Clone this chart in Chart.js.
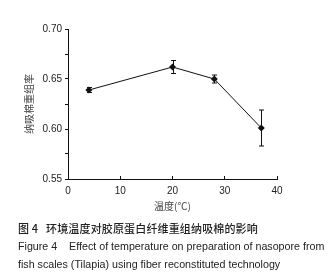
<!DOCTYPE html>
<html>
<head>
<meta charset="utf-8">
<script src="https://cdn.jsdelivr.net/npm/chart.js@4.4.1/dist/chart.umd.min.js"></script>
<style>
  body { margin: 0; background: #fff; }
  #wrap { position: relative; width: 335px; height: 276px; }
  canvas { position: absolute; left: 0; top: 0; }
  .cap { position: absolute; left: 18px; white-space: nowrap; color: #222; }
  #cap1 { top: 220px; font-size: 11px; letter-spacing: 0.15px; font-family: "Noto Sans CJK SC", sans-serif; font-weight: 500; }
  #cap2 { top: 240px; font-size: 10.7px; font-family: "Liberation Sans", Arial, sans-serif; }
  #cap3 { top: 258px; font-size: 10.7px; font-family: "Liberation Sans", Arial, sans-serif; }
</style>
</head>
<body>
<div id="wrap">
  <canvas id="chart" width="335" height="276"></canvas>
  <div class="cap" id="cap1">图 4&nbsp;&nbsp;&nbsp;环境温度对胶原蛋白纤维重组纳吸棉的影响</div>
  <div class="cap" id="cap2">Figure 4&nbsp;&nbsp;&nbsp;&nbsp;Effect of temperature on preparation of nasopore from</div>
  <div class="cap" id="cap3">fish scales (Tilapia) using fiber reconstituted technology</div>
</div>
<script>
// temperature (℃) vs reconstitution rate
const temps = [4, 20, 28, 37];
const rates = [0.639, 0.662, 0.650, 0.601];
const errs = [0.0025, 0.0065, 0.004, 0.018];
const xTicks = [0, 10, 20, 30, 40];

// error bars drawn through the chart's own scales
const errorBars = {
  id: 'errorBars',
  afterDatasetsDraw(chart) {
    const ctx = chart.ctx;
    const xs = chart.scales.x, ys = chart.scales.y;
    ctx.save();
    ctx.strokeStyle = '#111';
    ctx.lineWidth = 1;
    for (let i = 0; i < temps.length; i++) {
      const px = Math.round(xs.getPixelForValue(temps[i])) + 0.5;
      const top = ys.getPixelForValue(rates[i] + errs[i]);
      const bot = ys.getPixelForValue(rates[i] - errs[i]);
      ctx.beginPath();
      ctx.moveTo(px, top); ctx.lineTo(px, bot);
      ctx.moveTo(px - 2.5, top); ctx.lineTo(px + 2.5, top);
      ctx.moveTo(px - 2.5, bot); ctx.lineTo(px + 2.5, bot);
      ctx.stroke();
    }
    ctx.restore();
  }
};

let context = document.querySelector('#chart').getContext('2d');
new Chart(context, {
  type: 'scatter',
  data: {
    datasets: [{
      data: temps.map((t, i) => ({x: t, y: rates[i]})),
      showLine: true,
      borderColor: '#111',
      borderWidth: 1,
      backgroundColor: '#111',
      pointStyle: 'rectRot',
      pointRadius: 3.5,
      pointBorderWidth: 0
    }]
  },
  options: {
    responsive: false,
    animation: false,
    layout: { padding: { top: 29, right: 58, bottom: 60, left: 0 } },
    plugins: { legend: { display: false }, tooltip: { enabled: false } },
    scales: {
      x: {
        type: 'linear',
        min: 0, max: 40,
        afterBuildTicks: s => { s.ticks = xTicks.map(v => ({value: v})); },
        grid: { drawOnChartArea: false, drawTicks: true, tickLength: -3, color: '#111' },
        border: { color: '#111', width: 1 },
        ticks: { padding: 9, color: '#222', font: { family: 'Liberation Sans', size: 10 }, maxRotation: 0 },
        title: { display: true, text: '温度(℃)', color: '#444', padding: { top: 4, bottom: 4 },
                 font: { family: 'Noto Sans CJK SC', size: 10 } },
        afterFit: s => { s.height = 37; }
      },
      y: {
        min: 0.55, max: 0.70,
        grid: { drawOnChartArea: false, drawTicks: true, tickLength: 3, color: '#111' },
        border: { color: '#111', width: 1 },
        ticks: {
          stepSize: 0.025,
          padding: 3,
          color: '#222',
          font: { family: 'Liberation Sans', size: 10 },
          callback: v => (Math.round(v * 1000) % 50 === 0 ? v.toFixed(2) : '')
        },
        title: { display: true, text: '纳吸棉重组率', color: '#444', padding: { top: 23 },
                 font: { family: 'Noto Sans CJK SC', size: 10 } },
        afterFit: s => { s.width = 68; }
      }
    }
  },
  plugins: [errorBars]
});
</script>
</body>
</html>
